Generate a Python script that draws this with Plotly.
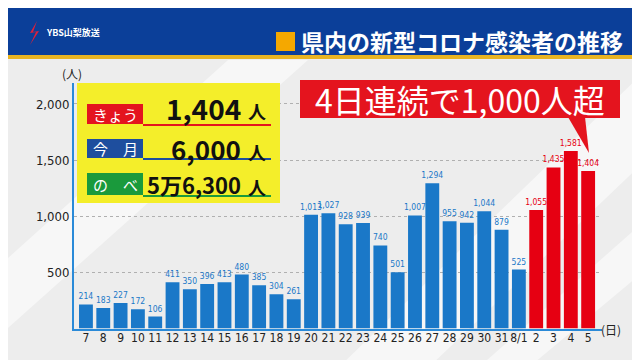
import plotly.graph_objects as go

days = ["7", "8", "9", "10", "11", "12", "13", "14", "15", "16", "17", "18", "19",
        "20", "21", "22", "23", "24", "25", "26", "27", "28", "29", "30", "31",
        "8/1", "2", "3", "4", "5"]
cases = [214, 183, 227, 172, 106, 411, 350, 396, 413, 480, 385, 304, 261,
         1013, 1027, 928, 939, 740, 501, 1007, 1294, 955, 942, 1044, 879,
         525, 1055, 1435, 1581, 1404]
highlight_from = "2"  # 4 consecutive days above 1,000 (Aug 2-5)
y_ticks = [500, 1000, 1500, 2000]
y_tick_text = ["500", "1,000", "1,500", "2,000"]

title_text = "県内の新型コロナ感染者の推移"
callout_text = "4日連続で1,000人超"
summary_labels = ["きょう", "今　月", "の　べ"]
summary_values = ["1,404", "6,000", "5万6,300"]

W, H = 640, 360
BLUE = "#1a78c8"
RED = "#e60012"
FONT = "Noto Sans CJK JP"
NUM_FONT = "Liberation Sans Narrow, DejaVu Sans Condensed, Roboto, Noto Sans"


def px(x):
    return x / W


def py(y):
    return 1 - y / H


hi = days.index(highlight_from)
bar_colors = [BLUE if i < hi else RED for i in range(len(days))]

fig = go.Figure()
fig.add_trace(go.Bar(
    x=days, y=cases,
    marker=dict(color=bar_colors, line=dict(width=0)),
    text=[f"{v:,}" for v in cases],
    textposition="outside",
    textfont=dict(family=NUM_FONT, size=8.5, color=bar_colors),
    constraintext="none",
    cliponaxis=False,
    hoverinfo="skip",
))

shapes = []
ann = []

# background streaks
for pts in [
    [(330, 360), (420, 360), (640, 150), (640, 60)],
    [(0, 250), (0, 320), (300, 52), (220, 52)],
    [(470, 360), (520, 360), (640, 260), (640, 210)],
]:
    path = "M " + " L ".join(f"{px(a)},{py(b)}" for a, b in pts) + " Z"
    shapes.append(dict(type="path", xref="paper", yref="paper", path=path,
                       fillcolor="rgba(255,255,255,0.55)", line=dict(width=0), layer="below"))

# header band
shapes.append(dict(type="rect", xref="paper", yref="paper", x0=0, x1=1, y0=py(47), y1=1,
                   fillcolor="#0b3f99", line=dict(width=0)))
shapes.append(dict(type="rect", xref="paper", yref="paper", x0=0, x1=1, y0=py(51), y1=py(47),
                   fillcolor="#e9b422", line=dict(width=0)))
shapes.append(dict(type="rect", xref="paper", yref="paper", x0=px(268), x1=px(287),
                   y0=py(43), y1=py(24), fillcolor="#f5a800", line=dict(width=0)))
# logo lightning
shapes.append(dict(type="path", xref="paper", yref="paper",
                   path=f"M {px(29)},{py(13)} L {px(22)},{py(25)} L {px(28)},{py(24)} "
                        f"L {px(22)},{py(37)} L {px(31)},{py(23)} L {px(25)},{py(24)} Z",
                   fillcolor="#e0203a", line=dict(width=0)))
ann.append(dict(text="<b>YBS山梨放送</b>", x=px(36), y=py(25), xanchor="left", yanchor="middle",
                font=dict(family=FONT, size=9, color="white")))
ann.append(dict(text="<b>" + title_text + "</b>", x=px(291), y=py(33), xanchor="left",
                yanchor="middle", font=dict(family=FONT, size=23, color="white")))

# summary yellow box
shapes.append(dict(type="rect", xref="paper", yref="paper", x0=px(69), x1=px(272),
                   y0=py(195), y1=py(75), fillcolor="#f4ee2a", line=dict(width=0), layer="above"))
row_colors = ["#e4141e", "#1e4e9e", "#1a9a3c"]
row_boxes = [(96, 116), (131, 150), (165, 187)]
value_centers = [100, 141, 176]
num_sizes = [28, 26, 22]
for lbl, val, col, (y0, y1), vc, ns in zip(summary_labels, summary_values, row_colors,
                                           row_boxes, value_centers, num_sizes):
    shapes.append(dict(type="rect", xref="paper", yref="paper", x0=px(79), x1=px(135),
                       y0=py(y1), y1=py(y0), fillcolor=col, line=dict(width=0), layer="above"))
    shapes.append(dict(type="line", xref="paper", yref="paper", x0=px(135), x1=px(263),
                       y0=py(y1 + 1), y1=py(y1 + 1), line=dict(color=col, width=2), layer="above"))
    ann.append(dict(text=lbl, x=px(107), y=py((y0 + y1) / 2), xanchor="center", yanchor="middle",
                    font=dict(family=FONT, size=15, color="white")))
    ann.append(dict(text="<b>" + val + "</b>", x=px(235), y=py(vc),
                    xanchor="right", yanchor="middle",
                    font=dict(family=FONT, size=ns, color="#111111")))
    ann.append(dict(text="<b>人</b>", x=px(238), y=py(vc + 3), xanchor="left",
                    yanchor="middle", font=dict(family=FONT, size=18, color="#111111")))

# callout
shapes.append(dict(type="rect", xref="paper", yref="paper", x0=px(292), x1=px(612),
                   y0=py(110), y1=py(72), fillcolor="#e4141e", line=dict(width=0), layer="above"))
shapes.append(dict(type="path", xref="paper", yref="paper",
                   path=f"M {px(560)},{py(109)} L {px(577)},{py(109)} L {px(581)},{py(145)} Z",
                   fillcolor="#e4141e", line=dict(width=0), layer="above"))
ann.append(dict(text=callout_text, x=px(452), y=py(91), xanchor="center", yanchor="middle",
                font=dict(family=FONT, size=32, color="white")))

# axis unit labels
ann.append(dict(text="(人)", x=px(64), y=py(65), xanchor="center", yanchor="middle",
                font=dict(family=FONT, size=12, color="#222222")))
ann.append(dict(text="(日)", x=px(603), y=py(321), xanchor="center", yanchor="middle",
                font=dict(family=FONT, size=12, color="#222222")))

for a in ann:
    a.update(xref="paper", yref="paper", showarrow=False)

fig.update_layout(
    width=W, height=H,
    margin=dict(l=0, r=0, t=0, b=0),
    paper_bgcolor="#ededed",
    plot_bgcolor="rgba(0,0,0,0)",
    showlegend=False,
    bargap=0.2,
    shapes=shapes,
    annotations=ann,
    xaxis=dict(domain=[px(66), px(594)], type="category", range=[-0.69, 29.8],
               showline=True, linecolor="#2a8ad8", linewidth=2, showgrid=False,
               ticks="", tickangle=0, ticklabelstandoff=-3,
               tickfont=dict(family=NUM_FONT, size=12, color="#222222"),
               fixedrange=True),
    yaxis=dict(domain=[py(320.5), py(75)], range=[0, 2187],
               tickvals=y_ticks, ticktext=y_tick_text,
               showline=True, linecolor="#2a8ad8", linewidth=2,
               showgrid=True, gridcolor="#b0b0b0", griddash="dot", gridwidth=1,
               zeroline=False, ticks="",
               tickfont=dict(family=NUM_FONT, size=13, color="#222222"),
               fixedrange=True),
)

fig.write_html("out.html")
